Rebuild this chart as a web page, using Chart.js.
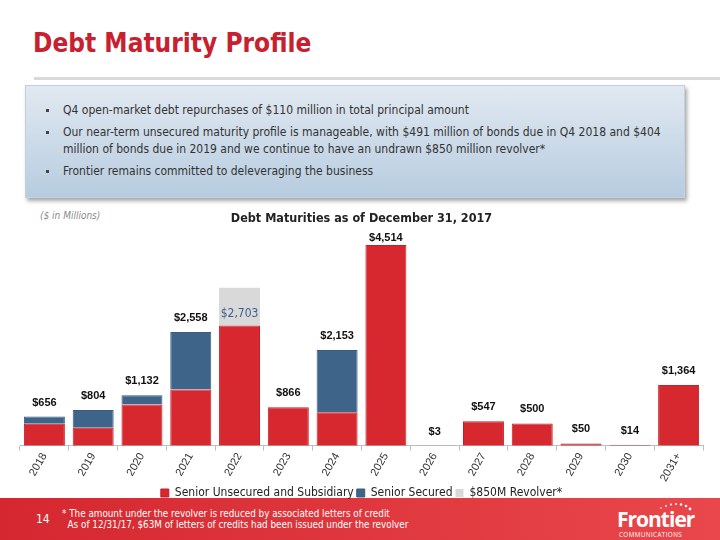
<!DOCTYPE html>
<html>
<head>
<meta charset="utf-8">
<script src="https://cdn.jsdelivr.net/npm/chart.js@4.4.0/dist/chart.umd.min.js"></script>
<style>
  html, body { margin: 0; padding: 0; }
  body { width: 720px; height: 540px; overflow: hidden; background: #fff; position: relative; font-family: "DejaVu Sans Condensed", "DejaVu Sans", sans-serif; }
  #title { position: absolute; left: 33px; top: 28px; font-size: 26px; font-weight: bold; color: #c8202f; letter-spacing: 0px; }
  #rule { position: absolute; left: 34px; top: 77px; width: 686px; height: 3px; background: #d9d9d9; }
  #box { position: absolute; left: 25px; top: 85px; width: 658px; height: 111px; border: 1px solid #c3d1de;
         background: linear-gradient(#e1e9f1, #b7cce0); box-shadow: 2px 3px 4px rgba(0,0,0,0.35); }
  #box ul { margin: 0; padding: 0; list-style: none; position: absolute; left: 19px; top: 16px; width: 630px; font-size: 12px; color: #333; }
  #box li { position: relative; padding-left: 18px; line-height: 17px; margin-bottom: 5px; }
  #box li:before { content: ""; position: absolute; left: 1px; top: 7px; width: 3px; height: 3px; background: #444; }
  #units { position: absolute; left: 40px; top: 210px; font-size: 10px; font-style: italic; color: #8c8c8c; }
  #wrap { position: absolute; left: 0; top: 205px; width: 720px; height: 304px; z-index: 2; }
  #footer { position: absolute; left: 0; top: 498px; width: 720px; height: 42px; background: linear-gradient(90deg, #d5272f, #e9474b); color: #fff; z-index: 1; }
  #page { position: absolute; left: 36px; top: 14px; font-size: 12px; }
  #note { position: absolute; left: 62px; top: 11px; font-size: 9.8px; line-height: 10.5px; }
  #logo { position: absolute; left: 617px; top: 4px; width: 90px; height: 36px; }
  #logo .name { position: absolute; left: 0; top: 3px; font-family: "Open Sans", sans-serif; font-weight: bold; font-size: 21px; letter-spacing: -1px; }
  #logo .sub { position: absolute; left: 2px; top: 28px; font-family: "Open Sans", sans-serif; font-size: 6.3px; letter-spacing: 0.4px; }
</style>
</head>
<body>
<div id="title">Debt Maturity Profile</div>
<div id="rule"></div>
<div id="box">
  <ul>
    <li>Q4 open-market debt repurchases of $110 million in total principal amount</li>
    <li>Our near-term unsecured maturity profile is manageable, with $491 million of bonds due in Q4 2018 and $404 million of bonds due in 2019 and we continue to have an undrawn $850 million revolver*</li>
    <li>Frontier remains committed to deleveraging the business</li>
  </ul>
</div>
<div id="units">($ in Millions)</div>
<div id="wrap"><canvas id="debtChart" width="720" height="304"></canvas></div>
<div id="footer">
  <div id="page">14</div>
  <div id="note">* The amount under the revolver is reduced by associated letters of credit<br>&nbsp;&nbsp;As of 12/31/17, $63M of letters of credits had been issued under the revolver</div>
  <div id="logo">
    <svg width="90" height="14" style="position:absolute;left:0;top:-2px">
      <circle cx="44" cy="8" r="0.8" fill="#fff"/><circle cx="49" cy="6" r="0.9" fill="#fff"/>
      <circle cx="54" cy="4.5" r="1" fill="#fff"/><circle cx="59" cy="4" r="1.1" fill="#fff"/>
      <circle cx="64" cy="4.5" r="1.2" fill="#fff"/><circle cx="69" cy="6" r="1.3" fill="#fff"/>
      <circle cx="73" cy="9" r="1.4" fill="#fff"/>
    </svg>
    <div class="name">Frontier</div>
    <div class="sub">COMMUNICATIONS</div>
  </div>
</div>

<script>
const years = ['2018', '2019', '2020', '2021', '2022', '2023', '2024', '2025', '2026', '2027', '2028', '2029', '2030', '2031+'];
const seniorUnsecured = [491, 404, 925, 1260, 2703, 866, 750, 4514, 3, 547, 500, 50, 14, 1364];
const seniorSecured = [165, 400, 207, 1298, 0, 0, 1403, 0, 0, 0, 0, 0, 0, 0];
const revolver = [0, 0, 0, 0, 850, 0, 0, 0, 0, 0, 0, 0, 0, 0];

// totals written above each stack (revolver not included)
const totalLabels = {
    id: 'totalLabels',
    afterDatasetsDraw(chart) {
        const ctx = chart.ctx;
        const yScale = chart.scales.y;
        const meta = chart.getDatasetMeta(0);
        ctx.save();
        ctx.textAlign = 'center';
        ctx.textBaseline = 'middle';
        years.forEach((year, i) => {
            const total = seniorUnsecured[i] + seniorSecured[i];
            const x = meta.data[i].x;
            const top = yScale.getPixelForValue(total);
            if (revolver[i] > 0) {
                ctx.fillStyle = '#3b5f8d';
                ctx.font = '12px "DejaVu Sans Condensed", sans-serif';
                ctx.fillText('$' + total.toLocaleString('en-US'), x, top - 12);
            } else {
                ctx.fillStyle = '#111';
                ctx.font = 'bold 11px "Liberation Sans", Arial, sans-serif';
                const y = Math.max(top - 14, chart.chartArea.top + 2);
                ctx.fillText('$' + total.toLocaleString('en-US'), x, y);
            }
        });
        ctx.restore();
    }
};

const ctx = document.getElementById('debtChart').getContext('2d');
new Chart(ctx, {
    type: 'bar',
    data: {
        labels: years,
        datasets: [{
            label: 'Senior Unsecured and Subsidiary',
            data: seniorUnsecured,
            backgroundColor: '#d7282f',
            borderColor: '#c42128',
            borderWidth: 1
        }, {
            label: 'Senior Secured',
            data: seniorSecured,
            backgroundColor: '#3f6489',
            borderColor: '#3a5c80',
            borderWidth: 1
        }, {
            label: '$850M Revolver*',
            data: revolver,
            backgroundColor: '#d9d9d9',
            borderWidth: 0
        }]
    },
    options: {
        responsive: false,
        animation: false,
        layout: { padding: { left: 20, right: 17, top: 0, bottom: 0 } },
        datasets: { bar: { categoryPercentage: 1, barPercentage: 0.84 } },
        scales: {
            x: {
                stacked: true,
                grid: { display: true, drawOnChartArea: false, drawTicks: true, tickLength: 5, color: '#bfbfbf' },
                border: { color: '#bfbfbf' },
                ticks: {
                    color: '#333',
                    font: { family: '"Liberation Sans", Arial, sans-serif', size: 11 },
                    minRotation: 60,
                    maxRotation: 60,
                    padding: 0
                }
            },
            y: {
                stacked: true,
                display: false,
                min: 0,
                max: 4715
            }
        },
        plugins: {
            title: {
                display: true,
                text: 'Debt Maturities as of December 31, 2017',
                color: '#222',
                font: { family: '"DejaVu Sans Condensed", sans-serif', size: 12.5, weight: 'bold' },
                padding: { top: 6, bottom: 10 }
            },
            legend: {
                position: 'bottom',
                labels: {
                    boxWidth: 8,
                    boxHeight: 8,
                    padding: 3,
                    color: '#222',
                    font: { family: '"DejaVu Sans Condensed", sans-serif', size: 12 }
                }
            },
            tooltip: { enabled: false }
        }
    },
    plugins: [totalLabels]
});
</script>
</body>
</html>
